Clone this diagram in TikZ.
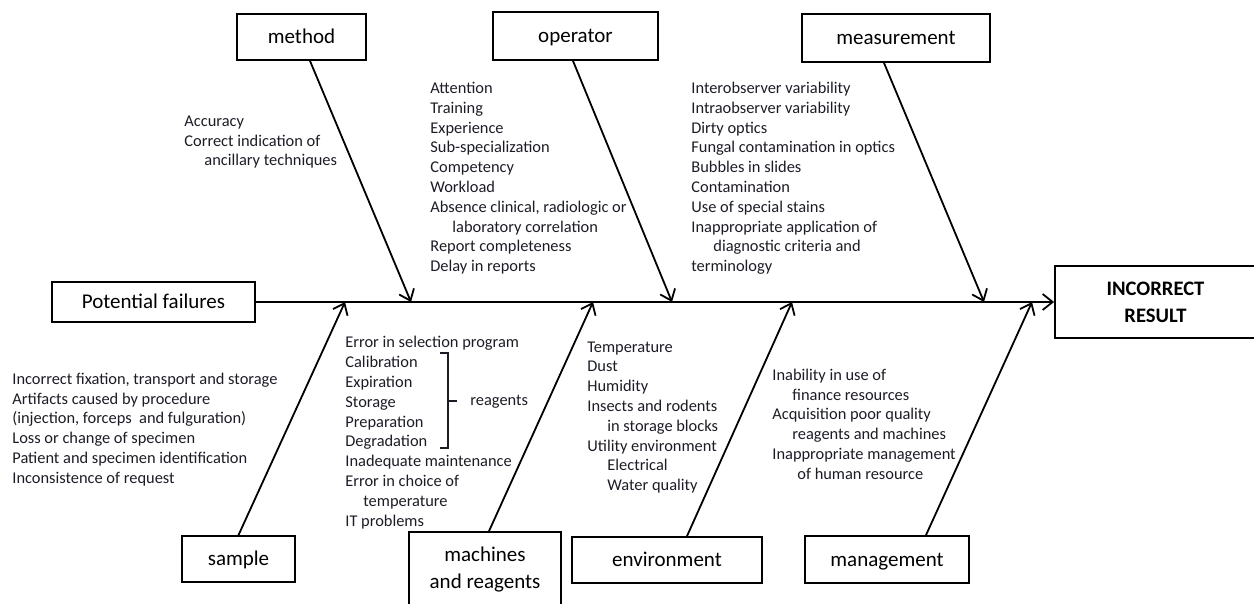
\documentclass[tikz,border=0pt]{standalone}
\usepackage{fontspec}
\setmainfont{Carlito}
\usetikzlibrary{arrows.meta}
\definecolor{ink}{RGB}{28,28,38}
\newcommand{\causefont}{\fontsize{8.2}{9.9}\selectfont}
\newcommand{\bonefont}{\fontsize{10.5}{13.5}\selectfont}
\newcommand{\ind}{\hspace*{10pt}}

\begin{document}
\begin{tikzpicture}[x=0.5pt,y=-0.5pt,
  box/.style={draw,line width=0.9pt,inner sep=0pt,font=\bonefont,align=center,text height=8.4pt,text depth=1.6pt},
  list/.style={anchor=base west,inner sep=0pt,font=\causefont,align=left,text=ink}]
\useasboundingbox (0,0) rectangle (1254,604);
\node[box,minimum width=64.5pt,minimum height=23pt] (A) at (301.5,37) {method};
\node[box,minimum width=82.5pt,minimum height=24pt] (B) at (575.5,36) {operator};
\node[box,minimum width=94pt,minimum height=24pt] (C) at (896,38) {measurement};
\node[box,minimum width=56.5pt,minimum height=23pt] (D) at (238.5,559) {sample};
\node[box,minimum width=76pt,minimum height=38pt,text height=,text depth=] (E) at (485,570) {machines\\and reagents};
\node[box,minimum width=95pt,minimum height=23pt] (F) at (667,560) {environment};
\node[box,minimum width=82pt,minimum height=23.5pt] (G) at (887,559.5) {management};
\node[box,minimum width=101.5pt,minimum height=20pt] (P) at (153.5,302) {Potential failures};
\node[box,minimum width=100.5pt,minimum height=36pt,text height=,text depth=,font=\fontsize{10.3}{13.5}\selectfont\bfseries] (R) at (1155.5,302) {INCORRECT\\RESULT};
% where the bones meet the spine
\coordinate (a) at (411,302);
\coordinate (b) at (672,302);
\coordinate (c) at (984,302);
\coordinate (d) at (345,302);
\coordinate (e) at (593,302);
\coordinate (f) at (792,302);
\coordinate (g) at (1032,302);
\path[->,line width=0.9pt, >={Straight Barb[length=5pt,width=8pt]}]
([xshift=4.25pt]A.south) edge (a)
([xshift=-1.25pt]B.south) edge (b)
([xshift=-6pt]C.south) edge (c)
(D.north) edge (d)
([xshift=2pt]E.north) edge (e)
([xshift=10pt]F.north) edge (f)
([xshift=19.5pt]G.north) edge (g)
(P) edge (R);
% causes, placed at the baseline of their last line
\node[list] (ta) at (184,166) {Accuracy\\Correct indication of\\\ind ancillary techniques};
\node[list] (tb) at (430,271.7) {Attention\\Training\\Experience\\Sub-specialization\\Competency\\Workload\\Absence clinical, radiologic or\\\hspace*{11pt}laboratory correlation\\Report completeness\\Delay in reports};
\node[list] (tc) at (691,271.7) {Interobserver variability\\Intraobserver variability\\Dirty optics\\Fungal contamination in optics\\Bubbles in slides\\Contamination\\Use of special stains\\Inappropriate application of\\\hspace*{11pt}diagnostic criteria and\\terminology};
\node[list] (td) at (12,483.3) {Incorrect fixation, transport and storage\\Artifacts caused by procedure\\(injection, forceps\ \ and fulguration)\\Loss or change of specimen\\Patient and specimen identification\\Inconsistence of request};
\node[list] (te) at (345,526) {Error in selection program\\Calibration\\Expiration\\Storage\\Preparation\\Degradation\\Inadequate maintenance\\Error in choice of\\\hspace*{9pt}temperature\\IT problems};
\node[list] (tf) at (587,490.7) {Temperature\\Dust\\Humidity\\Insects and rodents\\\ind in storage blocks\\Utility environment\\\ind Electrical\\\ind Water quality};
\node[list] (tg) at (772,479.3) {Inability in use of\\\ind finance resources\\Acquisition poor quality\\\ind reagents and machines\\Inappropriate management\\\hspace*{12.5pt}of human resource};
\node[list] (r) at (470,406) {reagents};
\draw[line width=0.6pt,ink] (440,353) -- (448,353) -- (448,448) -- (440,448) (448,401) -- (457,401);
\end{tikzpicture}
\end{document}
